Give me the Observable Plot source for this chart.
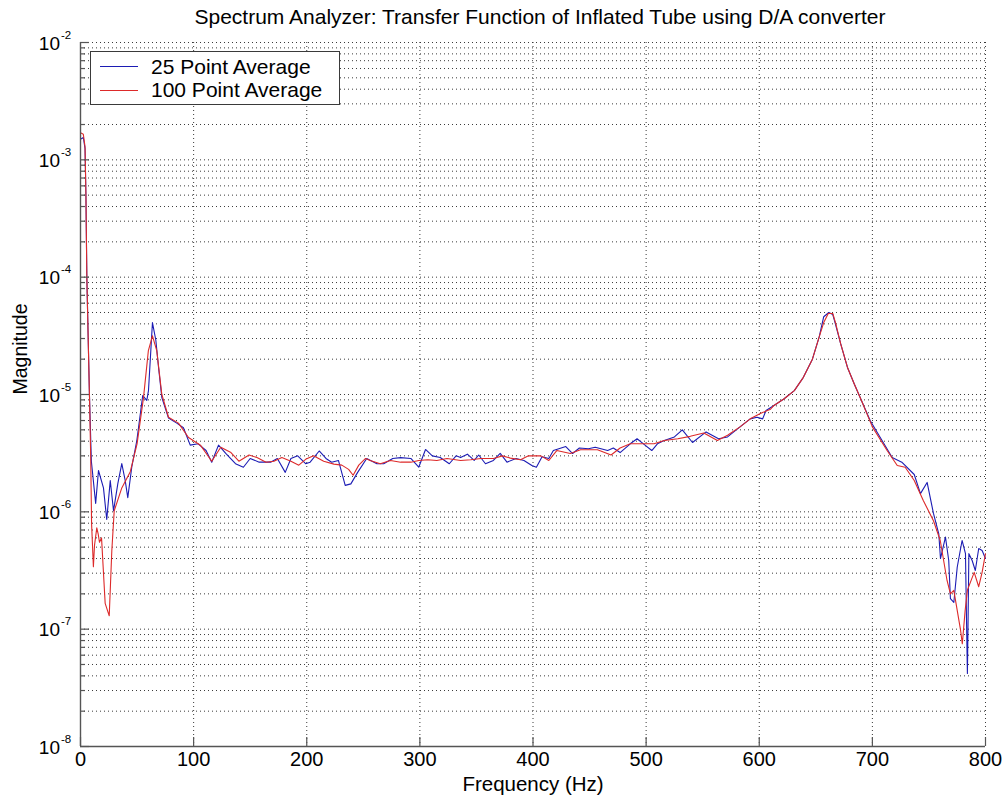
<!DOCTYPE html>
<html><head><meta charset="utf-8">
<script src="https://cdn.jsdelivr.net/npm/d3@7"></script>
<script src="https://cdn.jsdelivr.net/npm/@observablehq/plot@0.6"></script>
<style>
body{margin:0;background:#fff;font-family:"Liberation Sans",Arial,sans-serif;color:#000;}
#wrap{position:relative;width:1006px;height:804px;overflow:hidden;}
#title{height:23px;padding-top:5px;padding-left:74px;line-height:24px;text-align:center;font-size:21px;white-space:nowrap;}
#legend{position:absolute;left:90px;top:51px;width:248px;height:52px;border:1px solid #3a3a3a;background:#fff;}
#legend .ln{position:absolute;left:9px;width:38px;height:1.2px;}
#legend .tx{position:absolute;left:60px;font-size:21px;line-height:21px;white-space:nowrap;}
</style></head>
<body>
<div id="wrap">
  <div id="title"></div>
  <div id="chart"></div>
  <div id="legend"></div>
</div>
<script>
// ---- data ----
const titleText = "Spectrum Analyzer: Transfer Function of Inflated Tube using D/A converter";
const xLabel = "Frequency (Hz)";
const yLabel = "Magnitude";
const seriesNames = ["25 Point Average", "100 Point Average"];
const seriesColors = ["#1c1cb4", "#dd2a2a"];

const freq25 = [0,2.5,4,4.8,5.6,7.9,9.6,13.4,15.9,20.3,23.2,26.3,29.2,33,36.5,39.5,41.8,45.3,49.8,55,58.6,60.1,63.6,66.6,69,71.9,77.8,85.1,91,97,
104,111,116,122,129,137,144,150,158,168,174,181,186,192,199,203,211,217,222,228,234,239,245,253,262,268,276,283,292,299,305,311,318,326,332,336,342,348,352,358,365,371,377,385,392,399,403,408,
414,418,429,435,441,449,455,466,471,477,486,492,499,505,510,516,525,532,541,553,564,572,583,592,598,603,606,613,622,631,639,647,653,657,661.5,665,667,672,678,684,691,698,
717.5,726,737,742.5,748.4,754,758.7,760.2,764.6,767.5,769,772,775,779.3,782.3,783.6,784,784.5,785.3,788.2,791,794,797,800];
const mag25 = [1.5e-3,1.55e-3,1.25e-3,5e-4,1e-4,1e-5,2.7e-6,1.18e-6,2.25e-6,1.6e-6,8.6e-7,1.85e-6,1.02e-6,1.74e-6,2.58e-6,1.85e-6,1.32e-6,2.4e-6,4.05e-6,9.8e-6,8.9e-6,1.08e-5,4.1e-5,2.9e-5,1.7e-5,9.4e-6,6.3e-6,5.7e-6,5.2e-6,3.7e-6,
3.8e-6,3.33e-6,2.65e-6,3.7e-6,3.1e-6,2.57e-6,2.4e-6,2.85e-6,2.65e-6,2.65e-6,2.85e-6,2.17e-6,2.85e-6,3.0e-6,2.57e-6,2.65e-6,3.3e-6,2.85e-6,2.65e-6,2.74e-6,1.68e-6,1.73e-6,2.17e-6,2.85e-6,2.57e-6,2.57e-6,2.85e-6,2.9e-6,2.85e-6,2.4e-6,3.4e-6,3.0e-6,2.9e-6,2.57e-6,3.0e-6,2.9e-6,3.1e-6,2.74e-6,3.05e-6,2.57e-6,2.74e-6,3.15e-6,2.65e-6,2.85e-6,2.74e-6,2.48e-6,2.4e-6,2.95e-6,
2.85e-6,3.33e-6,3.6e-6,3.14e-6,3.5e-6,3.45e-6,3.55e-6,3.33e-6,3.5e-6,3.2e-6,3.8e-6,4.2e-6,3.7e-6,3.33e-6,3.8e-6,4.05e-6,4.35e-6,5.0e-6,3.9e-6,4.8e-6,4.2e-6,4.35e-6,5.3e-6,6.2e-6,6.4e-6,6.2e-6,7.3e-6,8.06e-6,9.2e-6,1.08e-5,1.4e-5,2.0e-5,3.1e-5,4.6e-5,5.0e-5,4.8e-5,4.1e-5,2.7e-5,1.7e-5,1.23e-5,8.6e-6,6.0e-6,
2.9e-6,2.65e-6,2.08e-6,1.43e-6,1.78e-6,9.7e-7,6.5e-7,4.0e-7,6.1e-7,3.85e-7,1.82e-7,1.69e-7,3.37e-7,5.7e-7,4.4e-7,7e-8,4.2e-8,1.0e-7,4.4e-7,3.85e-7,3.16e-7,4.87e-7,4.68e-7,4.0e-7];

const freq100 = [0,2.5,4,4.8,5.6,7.9,9,9.8,11.4,12.4,14.4,15.6,16.8,18.6,21.8,25.4,27.7,29.8,36.5,44,50,55.7,60,63.6,67.4,71.9,77.8,86.6,95.5,
106,116,124,133,140,149,156,164,171,178,186,193,199,206,215,224,231,237,241,246,252,256,265,274,283,292,299,307,315,324,336,345,354,365,373,380,389,396,
407,414,421,433,442,457,469,477,486,498,507,516,528,539,551,563,572,583,592,601,610,613,622,631,639,647,653,657,661,665,667.4,672,678,684,691,700,
713,722,729,737,745,754,760,766,769,772,778,779.5,782,784,790,794,797,800];
const mag100 = [1.7e-3,1.65e-3,1.3e-3,5e-4,1e-4,1e-5,3e-6,7.9e-7,3.4e-7,5.2e-7,7.3e-7,6.5e-7,5.5e-7,6e-7,1.66e-7,1.3e-7,4.7e-7,1.02e-6,1.6e-6,2.2e-6,3.8e-6,9.4e-6,2.37e-5,3.16e-5,2.37e-5,1e-5,6.4e-6,5.7e-6,4.3e-6,
3.7e-6,2.7e-6,3.55e-6,3.2e-6,2.7e-6,3.05e-6,2.9e-6,2.65e-6,2.7e-6,2.9e-6,2.7e-6,2.5e-6,2.8e-6,3.0e-6,2.7e-6,2.55e-6,2.5e-6,2.3e-6,2.05e-6,2.5e-6,2.85e-6,2.74e-6,2.57e-6,2.74e-6,2.65e-6,2.65e-6,2.74e-6,2.78e-6,2.74e-6,2.85e-6,2.74e-6,2.78e-6,2.85e-6,2.85e-6,3.0e-6,2.87e-6,2.78e-6,3.0e-6,
3.0e-6,2.74e-6,3.33e-6,3.14e-6,3.38e-6,3.38e-6,3.05e-6,3.5e-6,3.8e-6,3.8e-6,3.8e-6,4.05e-6,4.2e-6,4.4e-6,4.7e-6,4.05e-6,4.5e-6,5.3e-6,6.2e-6,6.9e-6,7.5e-6,8.06e-6,9.2e-6,1.08e-5,1.4e-5,2.0e-5,3.1e-5,4.1e-5,4.9e-5,4.9e-5,4.1e-5,2.7e-5,1.7e-5,1.23e-5,8.6e-6,5.3e-6,
3.33e-6,2.48e-6,2.4e-6,1.85e-6,1.25e-6,8.4e-7,5.7e-7,2.6e-7,2.0e-7,2.14e-7,9.75e-8,7.5e-8,1.44e-7,2.15e-7,3.05e-7,2.3e-7,3.05e-7,4.4e-7];

const xTicks = [0,100,200,300,400,500,600,700,800];
const xGrid = [100,200,300,400,500,600,700,800];
const yDecades = [1e-8,1e-7,1e-6,1e-5,1e-4,1e-3,1e-2];
const yExponents = ["-8","-7","-6","-5","-4","-3","-2"];
const minorMultipliers = [2,3,4,5,6,7,8,9];

// ---- derived tables ----
const data25 = freq25.map((f,i)=>({f, m: mag25[i]}));
const data100 = freq100.map((f,i)=>({f, m: mag100[i]}));
const yMinor = yDecades.slice(0,-1).flatMap(d => minorMultipliers.map(k => k*d));
const yGrid = yMinor.concat(yDecades.slice(1));

// ---- layout ----
const W = 1006, H = 776, mL = 80, mR = 21, mT = 14, mB = 58;
const pw = W - mL - mR, ph = H - mT - mB;
const axisColor = "#555";
const gridStyle = {stroke: "#3a3a3a", strokeWidth: 1, strokeDasharray: "1,3"};

document.getElementById("title").textContent = titleText;

const chart = Plot.plot({
  width: W, height: H,
  marginLeft: mL, marginRight: mR, marginTop: mT, marginBottom: mB,
  style: {fontFamily: "'Liberation Sans', Arial, sans-serif", background: "white", overflow: "visible", color: "#000"},
  x: {domain: [0, 800], axis: null},
  y: {type: "log", domain: [1e-8, 1e-2], axis: null},
  marks: [
    Plot.ruleY(yGrid, {y: d => d, ...gridStyle}),
    Plot.ruleX(xGrid, {x: d => d, ...gridStyle}),
    Plot.line(data25, {x: "f", y: "m", stroke: seriesColors[0], strokeWidth: 1.1}),
    Plot.line(data100, {x: "f", y: "m", stroke: seriesColors[1], strokeWidth: 1.1}),
    Plot.ruleX([0], {x: d => d, stroke: axisColor, strokeWidth: 1.4}),
    Plot.ruleY([1e-8], {y: d => d, stroke: axisColor, strokeWidth: 1.4}),
    Plot.tickX(xTicks, {x: d => d, stroke: axisColor, strokeWidth: 1.2, insetTop: ph - 9}),
    Plot.tickY(yDecades, {y: d => d, stroke: axisColor, strokeWidth: 1.2, insetRight: pw - 9}),
    Plot.tickY(yMinor, {y: d => d, stroke: axisColor, strokeWidth: 1.2, insetRight: pw - 5}),
    Plot.text(xTicks, {x: d => d, text: d => String(d), frameAnchor: "bottom", dy: 19, fontSize: 20, fill: "#000"}),
    Plot.text(yDecades, {y: d => d, text: () => "10", frameAnchor: "left", textAnchor: "end", dx: -20.5, dy: 1, fontSize: 19, fill: "#000"}),
    Plot.text(yDecades, {y: d => d, text: (d, i) => yExponents[i], frameAnchor: "left", textAnchor: "start", dx: -19.5, dy: -7.5, fontSize: 11.5, fill: "#000"}),
    Plot.text([yLabel], {text: d => d, frameAnchor: "left", dx: -60, rotate: -90, fontSize: 19.5, fill: "#000"}),
    Plot.text([xLabel], {text: d => d, frameAnchor: "bottom", dy: 44.5, fontSize: 20.5, fill: "#000"})
  ]
});
document.getElementById("chart").appendChild(chart);

// legend
const legend = document.getElementById("legend");
seriesNames.forEach((name, i) => {
  const ln = document.createElement("div");
  ln.className = "ln";
  ln.style.top = (14 + i * 23.5) + "px";
  ln.style.background = seriesColors[i];
  legend.appendChild(ln);
  const tx = document.createElement("div");
  tx.className = "tx";
  tx.style.top = (3.7 + i * 23) + "px";
  tx.textContent = name;
  legend.appendChild(tx);
});
</script>
</body></html>
